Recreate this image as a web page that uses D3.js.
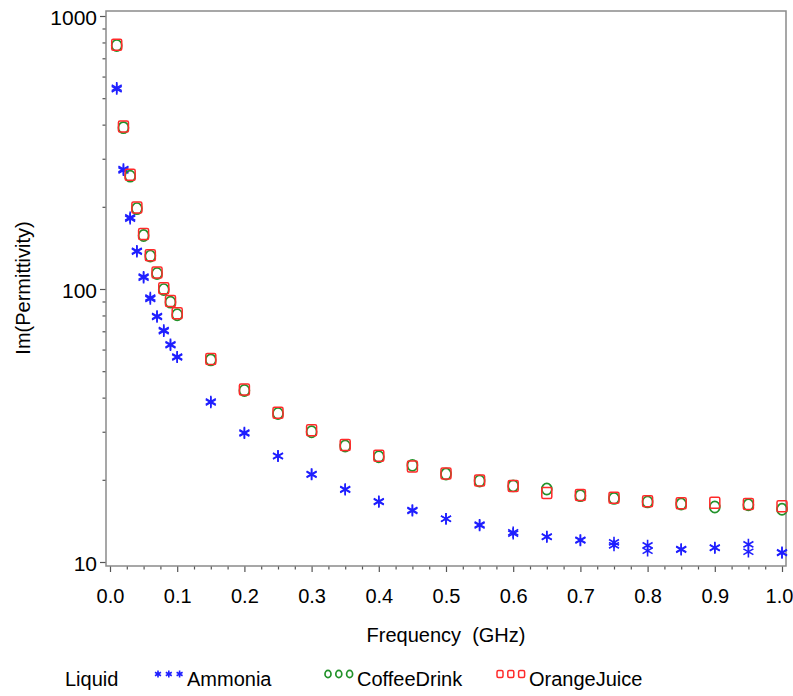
<!DOCTYPE html>
<html>
<head>
<meta charset="utf-8">
<script src="https://cdn.jsdelivr.net/npm/d3@7"></script>
<style>
  body { margin: 0; background: #fff; }
  text { font-family: "Liberation Sans", Arial, sans-serif; fill: #000; }
</style>
</head>
<body>
<div id="container"></div>
<script>
// frequencies in GHz
var freq = [0.01, 0.02, 0.03, 0.04, 0.05, 0.06, 0.07, 0.08, 0.09, 0.10,
            0.15, 0.20, 0.25, 0.30, 0.35, 0.40, 0.45, 0.50, 0.55, 0.60,
            0.65, 0.70, 0.75, 0.80, 0.85, 0.90, 0.95, 1.00];

// Im(permittivity), two ammonia runs
var ammonia  = [546, 275, 183, 138, 111, 93, 79.6, 70.7, 62.7, 56.5,
                38.7, 29.8, 24.5, 20.9, 18.5, 16.7, 15.5, 14.4, 13.7, 12.85,
                12.4, 12.0, 11.8, 11.5, 11.1, 11.3, 11.6, 10.8];
var ammonia2 = [540, 272, 181, 137, 110, 92, 79, 70, 62.2, 56.2,
                38.4, 29.6, 24.4, 21.0, 18.4, 16.6, 15.4, 14.4, 13.6, 12.7,
                12.35, 12.05, 11.5, 11.0, 11.15, 11.25, 10.9, 10.85];
var coffee   = [780, 390, 259, 197, 157, 132, 114, 99.5, 89.5, 80.5,
                55.0, 42.5, 35.0, 30.0, 26.6, 24.3, 22.6, 21.0, 19.8, 19.0,
                18.5, 17.5, 17.1, 16.6, 16.3, 15.9, 16.2, 15.6];
var orange   = [785, 394, 262, 199, 159, 133, 115, 100.6, 90.4, 81.5,
                55.4, 42.8, 35.2, 30.4, 26.8, 24.5, 22.4, 21.1, 19.9, 19.0,
                17.9, 17.6, 17.2, 16.7, 16.4, 16.5, 16.3, 16.0];

var xTicks = [0, 0.1, 0.2, 0.3, 0.4, 0.5, 0.6, 0.7, 0.8, 0.9, 1.0];
var yTicks = [10, 100, 1000];
var names  = ["Ammonia", "CoffeeDrink", "OrangeJuice"];

var W = 793, H = 696;
var frame = {left: 106, right: 786, top: 11, bottom: 566};

var svg = d3.select("#container")
  .append("svg")
    .attr("width", W)
    .attr("height", H);

svg.append("rect").attr("width", W).attr("height", H).attr("fill", "#fff");

var x = d3.scaleLinear().domain([0, 1]).range([110, 782]);
var y = d3.scaleLog().domain([10, 1000]).range([562, 16]);

// minor tick values
var xMinor = d3.range(0, 1.0001, 0.025).filter(function(v) {
  return Math.abs(v * 10 - Math.round(v * 10)) > 1e-6;
});
var yMinor = [];
[10, 100].forEach(function(d) {
  for (var k = 2; k <= 9; k++) yMinor.push(d * k);
});

// x axis
var gx = svg.append("g")
  .attr("transform", "translate(0," + frame.bottom + ")")
  .call(d3.axisBottom(x).tickValues(xTicks).tickFormat(d3.format(".1f")).tickSize(6).tickPadding(17));
svg.append("g")
  .attr("transform", "translate(0," + frame.bottom + ")")
  .call(d3.axisBottom(x).tickValues(xMinor).tickFormat("").tickSize(3.5));

// y axis
var gy = svg.append("g")
  .attr("transform", "translate(" + frame.left + ",0)")
  .call(d3.axisLeft(y).tickValues(yTicks).tickFormat(d3.format("d")).tickSize(6).tickPadding(3));
svg.append("g")
  .attr("transform", "translate(" + frame.left + ",0)")
  .call(d3.axisLeft(y).tickValues(yMinor).tickFormat("").tickSize(3.5));

svg.selectAll(".domain").remove();
svg.selectAll(".tick line").attr("stroke", "#555").attr("stroke-width", 1.2);
gx.selectAll("text").style("font-size", "20px");
gx.selectAll(".tick:last-of-type text").attr("dx", "-3");
gy.selectAll("text").style("font-size", "21px").attr("dy", "0.42em");

// frame
svg.append("rect")
  .attr("x", frame.left).attr("y", frame.top)
  .attr("width", frame.right - frame.left)
  .attr("height", frame.bottom - frame.top)
  .attr("fill", "none")
  .attr("stroke", "#8a8a8a")
  .attr("stroke-width", 1.5);

// markers
function asterisk(s) {
  var r = s / 2, a = r * 0.87, b = r * 0.5;
  return "M0," + (-r) + "L0," + r +
         "M" + (-a) + "," + (-b) + "L" + a + "," + b +
         "M" + (-a) + "," + b + "L" + a + "," + (-b);
}
function drawMarker(g, type, cx, cy, s, color) {
  if (type === 0) {
    g.append("path")
      .attr("d", asterisk(s * 1.15))
      .attr("transform", "translate(" + cx + "," + cy + ")")
      .attr("stroke", color).attr("stroke-width", 1.6).attr("fill", "none");
  } else if (type === 1) {
    g.append("ellipse")
      .attr("cx", cx).attr("cy", cy).attr("rx", s / 2).attr("ry", s / 2 + 0.6)
      .attr("stroke", color).attr("stroke-width", 1.7).attr("fill", "none");
  } else {
    g.append("rect")
      .attr("x", cx - s / 2).attr("y", cy - s / 2 - 0.5).attr("width", s).attr("height", s + 1)
      .attr("rx", 1.5)
      .attr("stroke", color).attr("stroke-width", 1.5).attr("fill", "none");
  }
}

var colors = ["#1f1fff", "#22922a", "#ff2a2a"];
var plot = svg.append("g");

[ammonia, ammonia2].forEach(function(arr) {
  arr.forEach(function(v, i) { drawMarker(plot, 0, x(freq[i]), y(v), 10, colors[0]); });
});
coffee.forEach(function(v, i) { drawMarker(plot, 1, x(freq[i]), y(v), 10, colors[1]); });
orange.forEach(function(v, i) { drawMarker(plot, 2, x(freq[i]), y(v), 10, colors[2]); });

// axis titles
svg.append("text")
  .attr("x", 446).attr("y", 642)
  .attr("text-anchor", "middle")
  .style("font-size", "20px")
  .style("white-space", "pre")
  .text("Frequency  (GHz)");

svg.append("text")
  .attr("transform", "translate(30,288) rotate(-90)")
  .attr("text-anchor", "middle")
  .style("font-size", "20px")
  .text("Im(Permittivity)");

// legend
var legend = svg.append("g");
legend.append("text").attr("x", 65).attr("y", 686).style("font-size", "20px").text("Liquid");
var legX = [158, 328, 500];
names.forEach(function(n, k) {
  for (var j = 0; j < 3; j++) {
    drawMarker(legend, k, legX[k] + j * 10.8, 674, 6, colors[k]);
  }
  legend.append("text")
    .attr("x", legX[k] + 29).attr("y", 686)
    .style("font-size", "20px")
    .text(n);
});
</script>
</body>
</html>
